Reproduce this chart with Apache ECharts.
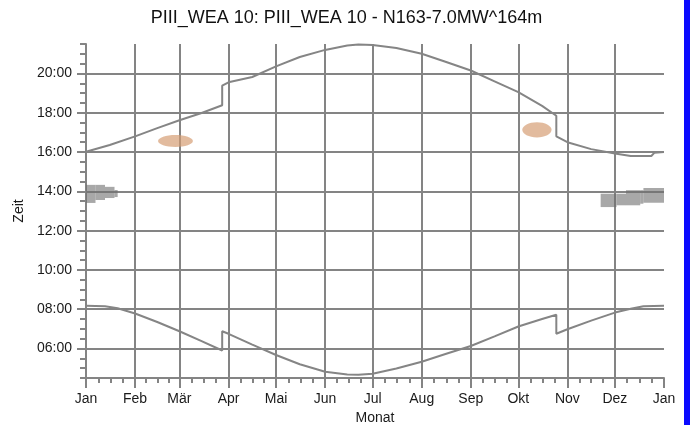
<!DOCTYPE html>
<html>
<head>
<meta charset="utf-8">
<script src="https://cdn.jsdelivr.net/npm/echarts@6/dist/echarts.min.js"></script>
<style>
  html, body { margin: 0; padding: 0; background: #fff; }
  #chart { width: 693px; height: 425px; }
</style>
</head>
<body>
<div id="chart"></div>
<script>
// month labels and their start day (day of year)
var monthNames = ['Jan', 'Feb', 'Mär', 'Apr', 'Mai', 'Jun', 'Jul', 'Aug', 'Sep', 'Okt', 'Nov', 'Dez', 'Jan'];
var monthStarts = [0, 31, 59, 90, 120, 151, 181, 212, 243, 273, 304, 334, 365];

// y tick labels (hours)
var hourTicks = [6, 8, 10, 12, 14, 16, 18, 20];

// sunset curve
var sunsetDays  = [0, 15, 31, 45, 59, 73, 86, 86, 90, 105, 120, 135, 151, 165, 172, 181, 196, 212, 227, 243, 258, 273, 288, 297, 297, 304, 319, 334, 344, 357, 359, 365];
var sunsetTimes = [16.02, 16.36, 16.8, 17.22, 17.62, 17.99, 18.38, 19.38, 19.55, 19.82, 20.36, 20.84, 21.2, 21.42, 21.47, 21.45, 21.3, 21.0, 20.6, 20.15, 19.6, 19.05, 18.35, 17.85, 16.8, 16.5, 16.15, 15.93, 15.8, 15.8, 15.97, 16.0];

// sunrise curve
var sunriseDays  = [0, 12, 20, 31, 45, 59, 73, 86, 86, 90, 105, 120, 135, 151, 165, 172, 181, 196, 212, 227, 243, 258, 273, 288, 297, 297, 304, 319, 334, 344, 352, 365];
var sunriseTimes = [8.18, 8.15, 8.05, 7.78, 7.35, 6.88, 6.38, 5.9, 6.88, 6.75, 6.2, 5.67, 5.2, 4.82, 4.68, 4.66, 4.72, 4.98, 5.33, 5.72, 6.13, 6.62, 7.12, 7.5, 7.72, 6.75, 6.98, 7.42, 7.83, 8.02, 8.15, 8.18];

// shadow periods (grey): [dayFrom, dayTo, timeFrom, timeTo]
var shadowJan = [
  [0, 6, 13.41, 14.33],
  [6, 12, 13.56, 14.33],
  [12, 18, 13.66, 14.23],
  [18, 20, 13.71, 14.07]
];
var shadowDec = [
  [325, 335, 13.20, 13.88],
  [335, 341, 13.29, 13.88],
  [341, 350, 13.29, 14.06],
  [350, 352, 13.37, 14.06],
  [352, 365, 13.42, 14.17]
];

// other shadow areas (tan): [dayFrom, dayTo, timeFrom, timeTo]
var shadowTan = [
  [45.5, 67.5, 16.26, 16.87],
  [275.5, 294, 16.74, 17.52]
];

function pad(n) { return (n < 10 ? '0' : '') + n; }

var minorX = [];
for (var m = 0; m < 12; m++) {
  var len = monthStarts[m + 1] - monthStarts[m];
  for (var q = 1; q < 4; q++) minorX.push(monthStarts[m] + len * q / 4);
}
var minorY = [];
for (var h = 4.5; h <= 21.5; h += 0.5) {
  if (h % 2 !== 0) minorY.push(h);
}

var lineColor = '#848484';
var font = 'Liberation Sans, Arial, sans-serif';
var labelStyle = { color: '#1a1a1a', fontSize: 14, fontFamily: font };

function bandItem(params, api) {
  var p0 = api.coord([api.value(0), api.value(3)]);
  var p1 = api.coord([api.value(1), api.value(2)]);
  return {
    type: 'rect',
    shape: { x: p0[0], y: p0[1], width: p1[0] - p0[0], height: p1[1] - p0[1] },
    style: { fill: 'rgba(110,110,110,0.6)' }
  };
}

function ellipseItem(params, api) {
  var p0 = api.coord([api.value(0), api.value(3)]);
  var p1 = api.coord([api.value(1), api.value(2)]);
  return {
    type: 'ellipse',
    shape: { cx: (p0[0] + p1[0]) / 2, cy: (p0[1] + p1[1]) / 2, rx: (p1[0] - p0[0]) / 2, ry: (p1[1] - p0[1]) / 2 },
    style: { fill: 'rgba(212,155,112,0.68)' }
  };
}

var option = {
  animation: false,
  title: {
    text: 'PIII_WEA 10: PIII_WEA 10 - N163-7.0MW^164m',
    left: 'center',
    top: 4,
    textStyle: { color: '#111', fontSize: 18, fontWeight: 'normal', fontFamily: font }
  },
  graphic: [{
    type: 'rect',
    shape: { x: 684, y: 0, width: 6, height: 425 },
    style: { fill: '#0a0aff' }
  }],
  grid: { left: 86, right: 29, top: 44, bottom: 47, outerBoundsMode: 'none', containLabel: false },
  xAxis: [{
    type: 'value', min: 0, max: 365, position: 'bottom',
    name: 'Monat', nameLocation: 'middle', nameGap: 32,
    nameTextStyle: labelStyle,
    axisLine: { onZero: false, lineStyle: { color: lineColor, width: 2 } },
    axisTick: { customValues: monthStarts, length: 10, lineStyle: { color: lineColor, width: 2 } },
    axisLabel: {
      customValues: monthStarts, margin: 14,
      formatter: function (v) { return monthNames[monthStarts.indexOf(v)]; },
      color: labelStyle.color, fontSize: 14, fontFamily: font
    },
    splitLine: { show: false }
  }, {
    type: 'value', min: 0, max: 365, position: 'bottom',
    axisLine: { show: false, onZero: false },
    axisTick: { customValues: minorX, length: 5, lineStyle: { color: lineColor, width: 2 } },
    axisLabel: { show: false },
    splitLine: { show: false }
  }, {
    type: 'value', min: 0, max: 365, position: 'bottom',
    axisLine: { show: false, onZero: false },
    axisTick: { show: false, customValues: monthStarts.slice(1, 12) },
    axisLabel: { show: false },
    splitLine: { show: true, lineStyle: { color: lineColor, width: 2 } }
  }],
  yAxis: [{
    type: 'value', min: 4.5, max: 21.5, position: 'left',
    name: 'Zeit', nameLocation: 'middle', nameGap: 56, nameRotate: 90,
    nameTextStyle: labelStyle,
    axisLine: { show: true, onZero: false, lineStyle: { color: lineColor, width: 2 } },
    axisTick: { show: true, customValues: hourTicks, length: 9, lineStyle: { color: lineColor, width: 2 } },
    axisLabel: {
      customValues: hourTicks, margin: 14,
      formatter: function (v) { return pad(v) + ':00'; },
      color: labelStyle.color, fontSize: 14, fontFamily: font
    },
    splitLine: { show: true, lineStyle: { color: lineColor, width: 2 } }
  }, {
    type: 'value', min: 4.5, max: 21.5, position: 'left',
    axisLine: { show: false, onZero: false },
    axisTick: { show: true, customValues: minorY, length: 6, lineStyle: { color: lineColor, width: 2 } },
    axisLabel: { show: false },
    splitLine: { show: false }
  }],
  series: [{
    type: 'custom', xAxisIndex: 0, yAxisIndex: 0,
    renderItem: bandItem, data: shadowJan.concat(shadowDec), z: 3
  }, {
    type: 'custom', xAxisIndex: 0, yAxisIndex: 0,
    renderItem: ellipseItem, data: shadowTan, z: 3
  }, {
    type: 'line', xAxisIndex: 0, yAxisIndex: 0,
    showSymbol: false, silent: true,
    lineStyle: { color: '#858585', width: 2 },
    data: sunsetDays.map(function (d, i) { return [d, sunsetTimes[i]]; }),
    z: 4
  }, {
    type: 'line', xAxisIndex: 0, yAxisIndex: 0,
    showSymbol: false, silent: true,
    lineStyle: { color: '#858585', width: 2 },
    data: sunriseDays.map(function (d, i) { return [d, sunriseTimes[i]]; }),
    z: 4
  }]
};

var chart = echarts.init(document.getElementById('chart'));
chart.setOption(option);
window.onresize = chart.resize;
</script>
</body>
</html>
